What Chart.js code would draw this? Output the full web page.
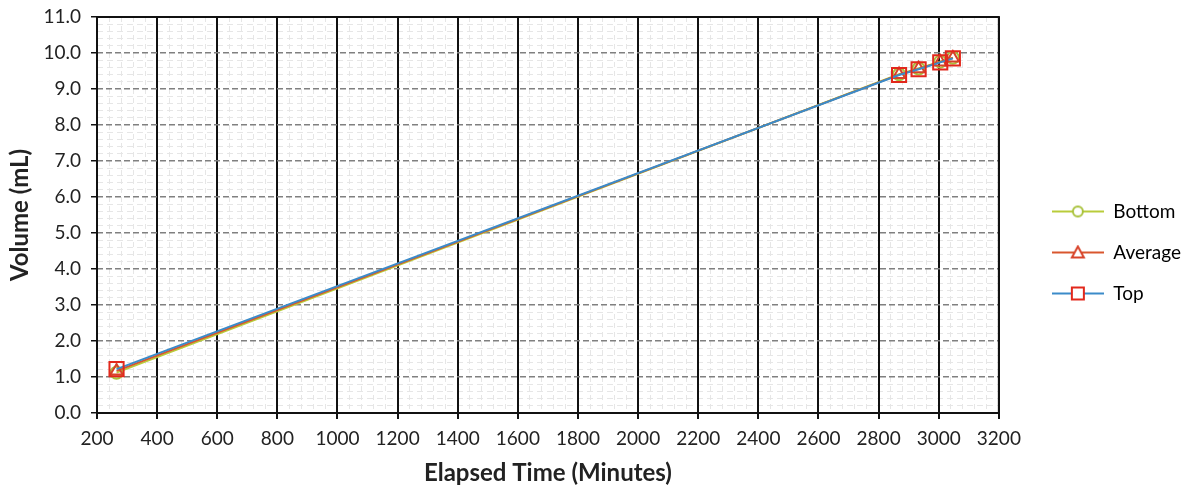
<!DOCTYPE html>
<html>
<head>
<meta charset="utf-8">
<script src="https://cdn.jsdelivr.net/npm/chart.js@4.4.1/dist/chart.umd.min.js"></script>
<style>
  html, body { margin: 0; padding: 0; background: #fff; }
  #wrap { width: 1186px; height: 491px; }
</style>
</head>
<body>
<div id="wrap"><canvas id="chart"></canvas></div>
<script>
// values
const elapsedTime = [265, 2868, 2933, 3005, 3047];
const bottomVolume = [1.12, 9.41, 9.57, 9.76, 9.87];
const averageVolume = [1.17, 9.40, 9.56, 9.75, 9.86];
const topVolume = [1.22, 9.39, 9.55, 9.74, 9.85];
const seriesNames = ['Bottom', 'Average', 'Top'];

const xMin = 200, xMax = 3200, xStep = 200, xMinorStep = 40;
const yMin = 0, yMax = 11, yStep = 1, yMinorStep = 0.2;

const FONT = 'Lato, "Open Sans", sans-serif';

const toPoints = (ys) => ys.map((y, i) => ({x: elapsedTime[i], y: y}));

// legend icon: short line with the marker on it
const legendIcon = (lineColor, markColor, style) => {
    const c = document.createElement('canvas');
    c.width = 52; c.height = 16;
    const g = c.getContext('2d');
    g.strokeStyle = lineColor;
    g.lineWidth = 2;
    g.beginPath(); g.moveTo(0, 8); g.lineTo(52, 8); g.stroke();
    g.strokeStyle = markColor;
    g.fillStyle = '#fff';
    g.lineWidth = 2;
    g.beginPath();
    if (style === 'circle') {
        g.arc(26, 8, 5, 0, Math.PI * 2);
    } else if (style === 'triangle') {
        g.moveTo(26, 2); g.lineTo(32, 13); g.lineTo(20, 13); g.closePath();
    } else {
        g.rect(20, 2, 12, 12);
    }
    g.fill(); g.stroke();
    return c;
};

const near = (v, step) => Math.abs(v / step - Math.round(v / step)) < 1e-6;

const frame = {
    id: 'frame',
    afterLayout(chart) {
        // push the legend a bit further right, away from the plot
        chart.legend.left += 31;
        chart.legend.right += 31;
    },
    afterDatasetsDraw(chart) {
        const {ctx, chartArea: a} = chart;
        ctx.save();
        ctx.strokeStyle = '#111';
        ctx.lineWidth = 2;
        ctx.strokeRect(a.left, a.top, a.right - a.left, a.bottom - a.top);
        ctx.restore();
    }
};

const datasets = [
    {
        label: seriesNames[0],
        data: toPoints(bottomVolume),
        borderColor: '#B9CC3A',
        pointBorderColor: '#A9C23C',
        pointStyle: 'circle',
        pointRadius: 6,
        icon: legendIcon('#B9CC3A', '#A9C23C', 'circle'),
        order: 3
    },
    {
        label: seriesNames[1],
        data: toPoints(averageVolume),
        borderColor: '#D9562E',
        pointBorderColor: '#D8432A',
        pointStyle: 'triangle',
        pointRadius: 7,
        icon: legendIcon('#D9562E', '#D8432A', 'triangle'),
        order: 2
    },
    {
        label: seriesNames[2],
        data: toPoints(topVolume),
        borderColor: '#3B8BC9',
        pointBorderColor: '#E2281C',
        pointStyle: 'rect',
        pointRadius: 10,
        icon: legendIcon('#3B8BC9', '#E2281C', 'rect'),
        order: 1
    }
];
datasets.forEach(d => {
    d.borderWidth = 2;
    d.pointBackgroundColor = 'rgba(255,255,255,0)';
    d.pointBorderWidth = 2;
    d.fill = false;
    d.tension = 0;
});

new Chart(document.getElementById('chart'), {
    type: 'line',
    data: {datasets: datasets},
    plugins: [frame],
    options: {
        responsive: true,
        maintainAspectRatio: false,
        animation: false,
        layout: {padding: {left: 6, top: 17, right: 26, bottom: 3}},
        plugins: {
            tooltip: {enabled: false},
            legend: {
                position: 'right',
                align: 'center',
                labels: {
                    usePointStyle: true,
                    pointStyleWidth: 52,
                    boxHeight: 16,
                    padding: 22,
                    color: '#333',
                    font: {family: FONT, size: 19},
                    generateLabels: (chart) => chart.data.datasets.map((d, i) => ({
                        text: d.label,
                        pointStyle: d.icon,
                        fillStyle: d.borderColor,
                        strokeStyle: d.borderColor,
                        lineWidth: 0,
                        hidden: false,
                        datasetIndex: i
                    }))
                }
            }
        },
        scales: {
            xMinor: {
                type: 'linear', position: 'bottom', min: xMin, max: xMax,
                ticks: {display: false, stepSize: xMinorStep},
                grid: {
                    drawTicks: false,
                    color: (c) => near(c.tick.value, xStep) ? 'rgba(0,0,0,0)' : '#e6e6e6',
                    lineWidth: 1
                },
                border: {display: false, dash: [5, 4]},
                afterFit: (s) => { s.height = 0; }
            },
            yMinor: {
                type: 'linear', position: 'left', min: yMin, max: yMax,
                ticks: {display: false, stepSize: yMinorStep},
                grid: {
                    drawTicks: false,
                    color: (c) => near(c.tick.value, yStep) ? 'rgba(0,0,0,0)' : '#e6e6e6',
                    lineWidth: 1
                },
                border: {display: false, dash: [6, 4]},
                afterFit: (s) => { s.width = 0; s.paddingTop = 0; s.paddingBottom = 0; }
            },
            x: {
                type: 'linear', position: 'bottom', min: xMin, max: xMax,
                ticks: {stepSize: xStep, color: '#222', font: {family: FONT, size: 19}, padding: 8, maxRotation: 0,
                        callback: (v) => String(v)},
                grid: {color: '#111', lineWidth: 2, tickLength: 6, tickColor: '#111'},
                border: {display: false},
                title: {display: true, text: 'Elapsed Time (Minutes)', color: '#222',
                        font: {family: FONT, size: 24, weight: 'bold'}, padding: {top: 4, bottom: 0}},
                afterFit: (s) => { s.height = 75; }
            },
            y: {
                type: 'linear', position: 'left', min: yMin, max: yMax,
                ticks: {stepSize: yStep, color: '#222', font: {family: FONT, size: 19}, padding: 10,
                        callback: (v) => v.toFixed(1)},
                grid: {color: '#808080', lineWidth: 1.5, tickLength: 6, tickColor: '#111'},
                border: {display: false, dash: [6, 3]},
                title: {display: true, text: 'Volume (mL)', color: '#222',
                        font: {family: FONT, size: 24, weight: 'bold'}, padding: {top: 0, bottom: 2}},
                afterFit: (s) => { s.width = 91; s.paddingTop = 0; s.paddingBottom = 0; }
            }
        }
    }
});
</script>
</body>
</html>
